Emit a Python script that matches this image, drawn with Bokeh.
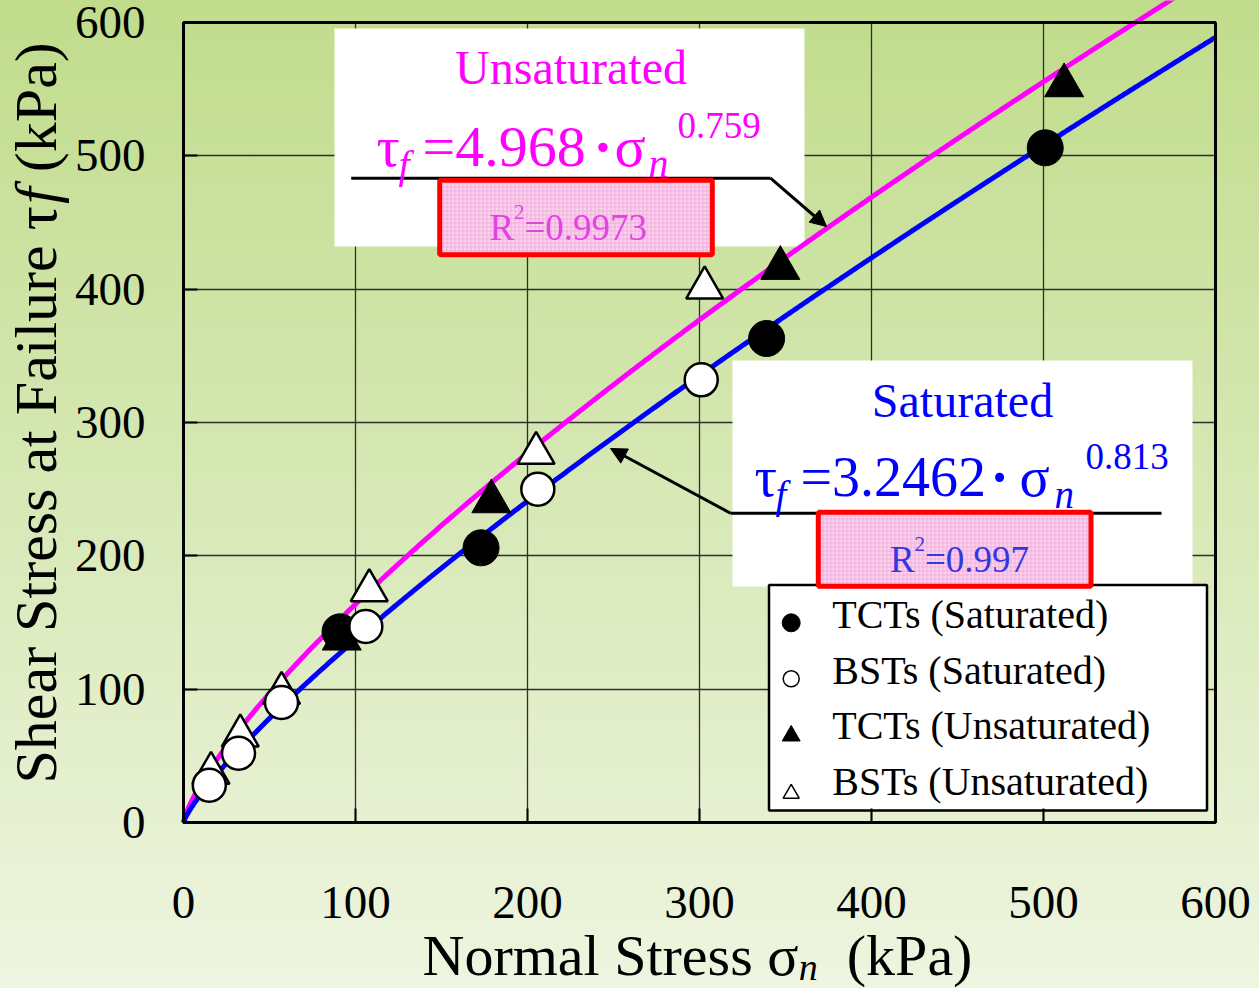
import numpy as np
from bokeh.plotting import figure
from bokeh.models import Range1d, FixedTicker, Label, BoxAnnotation, Arrow, NormalHead
from bokeh.embed import file_html
from bokeh.resources import INLINE

# ---------------- data ----------------
tct_sat_sigma = [91, 173, 339, 501]
tct_sat_tau = [143, 206, 363, 506]
bst_sat_sigma = [15, 32, 57, 106, 206, 301]
bst_sat_tau = [28, 52, 90, 147, 250, 332]
tct_unsat_sigma = [92, 179, 347, 512]
tct_unsat_tau = [142, 245, 420, 557]
bst_unsat_sigma = [16, 33, 57, 108, 205, 303]
bst_unsat_tau = [41, 69, 101, 178, 281, 405]
fit_sat = [3.2462, 0.813]      # tau_f = a * sigma_n ** b
fit_unsat = [4.968, 0.759]
r2_sat = "0.997"
r2_unsat = "0.9973"
axis_ticks = [0, 100, 200, 300, 400, 500, 600]
legend_labels = ["TCTs (Saturated)", "BSTs (Saturated)",
                 "TCTs (Unsaturated)", "BSTs (Unsaturated)"]

FONT = "Liberation Serif"
MAG = "#ff00ff"
BLUE = "#0000ff"
W_PX, H_PX = 1259, 988


# page pixel -> data coordinates (plot box: x 183..1215 = 0..600, y 822 = 0, 22 = 600)
def X(px):
    return (px - 183) / 1.72


def Y(py):
    return (822 - py) * 0.75


p = figure(width=W_PX, height=H_PX,
           x_range=Range1d(X(0), X(W_PX)), y_range=Range1d(Y(H_PX), Y(0)),
           output_backend="svg", toolbar_location=None,
           min_border_left=0, min_border_right=0, min_border_top=0, min_border_bottom=0)
p.border_fill_color = None
p.background_fill_color = None
p.outline_line_color = None
p.styles = {"background": "linear-gradient(to bottom, #c0dc8b 0%, #eef5e0 100%)"}

# axes drawn at the data origin of the 0..600 box
for ax in (p.xaxis, p.yaxis):
    ax.fixed_location = 0
    ax.bounds = (0, 600)
    ax.ticker = FixedTicker(ticks=axis_ticks)
    ax.axis_line_color = None
    ax.major_tick_in = 14
    ax.major_tick_out = 0
    ax.major_tick_line_width = 2
    ax.major_tick_line_color = "black"
    ax.minor_tick_line_color = None
    ax.major_label_text_font = FONT
    ax.major_label_text_font_size = "47px"
    ax.major_label_text_color = "black"
p.xaxis.major_label_standoff = 64
p.yaxis.major_label_standoff = 38

grid_ok = True
for g in (p.xgrid, p.ygrid):
    g.ticker = FixedTicker(ticks=axis_ticks)
    g.bounds = (0, 600)
    g.grid_line_color = "#2e2e2e"
    g.grid_line_width = 1.3
    try:
        g.cross_bounds = (0, 600)
    except Exception:
        grid_ok = False
if not grid_ok:
    for g in (p.xgrid, p.ygrid):
        g.visible = False
    p.segment(x0=axis_ticks, y0=[0] * 7, x1=axis_ticks, y1=[600] * 7,
              line_color="#2e2e2e", line_width=1.3, level="underlay")
    p.segment(x0=[0] * 7, y0=axis_ticks, x1=[600] * 7, y1=axis_ticks,
              line_color="#2e2e2e", line_width=1.3, level="underlay")

# white callout boxes and legend box
p.add_layout(BoxAnnotation(left=X(334), right=X(804), top=Y(28), bottom=Y(246),
                           fill_color="white", fill_alpha=1, line_color=None, level="underlay"))
p.add_layout(BoxAnnotation(left=X(732), right=X(1192), top=Y(360), bottom=Y(586),
                           fill_color="white", fill_alpha=1, line_color=None, level="underlay"))
p.add_layout(BoxAnnotation(left=X(768.5), right=X(1206.5), top=Y(584.5), bottom=Y(810),
                           fill_color="white", fill_alpha=1, line_color="black", line_alpha=1,
                           line_width=2.5, level="underlay"))

# fitted power-law curves
sig = np.linspace(0, 600, 601)
p.line(sig, fit_unsat[0] * sig ** fit_unsat[1], line_color=MAG, line_width=5)
p.line(sig, fit_sat[0] * sig ** fit_sat[1], line_color=BLUE, line_width=5)


# markers (triangles: shift so the bounding box, not the centroid, sits on the value)
def tri_shift(size):
    return size * 0.866 / 6 * 0.75


p.scatter(tct_sat_sigma, tct_sat_tau, marker="circle", size=36,
          fill_color="black", line_color="black", line_width=1)
p.scatter(tct_unsat_sigma, [t - tri_shift(39) for t in tct_unsat_tau], marker="triangle", size=39,
          fill_color="black", line_color="black", line_width=1)
p.scatter(bst_unsat_sigma, [t - tri_shift(37) for t in bst_unsat_tau], marker="triangle", size=37,
          fill_color="white", line_color="black", line_width=2.5)
p.scatter(bst_sat_sigma, bst_sat_tau, marker="circle", size=33,
          fill_color="white", line_color="black", line_width=2.5)

# legend markers
lx = X(790.7)
p.scatter([lx], [Y(622.3)], marker="circle", size=18, fill_color="black", line_color="black")
p.scatter([lx], [Y(678.3)], marker="circle", size=16, fill_color="white", line_color="black",
          line_width=1.5)
p.scatter([lx], [Y(732.7) - tri_shift(18)], marker="triangle", size=18, fill_color="black",
          line_color="black")
p.scatter([lx], [Y(790.7) - tri_shift(16)], marker="triangle", size=16, fill_color="white",
          line_color="black", line_width=1.5)

# plot box border
p.add_layout(BoxAnnotation(left=0, right=600, bottom=0, top=600, fill_color=None, fill_alpha=0,
                           line_color="black", line_alpha=1, line_width=3))

# leader lines with arrows
HEAD = dict(size=16, fill_color="black", line_color="black", line_width=1)
p.add_layout(Arrow(end=None, x_start=X(350.7), y_start=Y(177.7), x_end=X(770), y_end=Y(177.7),
                   line_width=3, line_color="black"))
p.add_layout(Arrow(end=NormalHead(**HEAD), x_start=X(770), y_start=Y(177.7),
                   x_end=X(826), y_end=Y(226), line_width=3, line_color="black"))
p.add_layout(Arrow(end=None, x_start=X(1161), y_start=Y(512.7), x_end=X(730), y_end=Y(512.7),
                   line_width=3, line_color="black"))
p.add_layout(Arrow(end=NormalHead(**HEAD), x_start=X(730), y_start=Y(512.7),
                   x_end=X(610), y_end=Y(448), line_width=3, line_color="black"))

# red R^2 boxes
for l, r, t, b in [(439.2, 711.8, 179.8, 254.2), (817.8, 1090.5, 511.8, 585.8)]:
    p.add_layout(BoxAnnotation(left=X(l), right=X(r), top=Y(t), bottom=Y(b),
                               fill_color="#f9d3ee", fill_alpha=1,
                               hatch_pattern="+", hatch_color="#f3a8dc", hatch_scale=4,
                               hatch_weight=1, hatch_alpha=0.9,
                               line_color="#ff0000", line_alpha=1, line_width=5))

BASE = 0.34  # distance (in em) between the label anchor and the glyph baseline


def lab(px, py, text, size, color="black", style="normal", align="left", angle=0):
    """px/py: page position of the text baseline start (or baseline centre)."""
    if angle == 0:
        ax_, ay_ = px, py - BASE * size
    else:
        ax_, ay_ = px - BASE * size, py
    p.add_layout(Label(x=X(ax_), y=Y(ay_), text=text, text_font=FONT,
                       text_font_size=f"{size}px", text_color=color, text_font_style=style,
                       text_align=align, text_baseline="alphabetic",
                       angle=angle, angle_units="deg"))


# Times-compatible advance widths (per 1000 em) for laying out composed labels
W = {' ': 250, '(': 333, ')': 333, 'S': 556, 'h': 500, 'e': 444, 'a': 444, 'r': 333, 't': 278,
     's': 389, 'F': 556, 'i': 278, 'l': 278, 'u': 500, 'k': 500, 'P': 556, 'N': 722, 'o': 500,
     'm': 778, 'τ': 439, 'σ': 544}


def tw(s, size):
    return sum(W.get(c, 500) for c in s) / 1000 * size


# titles in callouts
lab(570.5, 83, "Unsaturated", 48, MAG, align="center")
lab(962, 416, "Saturated", 48, BLUE, align="center")

# unsaturated equation
lab(376, 166, "τ", 58, MAG)
lab(398, 178, "f", 40, MAG, style="italic")
lab(422, 166, f"={fit_unsat[0]}", 58, MAG)
lab(602.5, 166, "·", 58, MAG, style="bold", align="center")
lab(614, 166, "σ", 58, MAG)
lab(648, 177, "n", 40, MAG, style="italic")
lab(677, 138, f"{fit_unsat[1]}", 37, MAG)

# saturated equation
lab(754, 496, "τ", 56, BLUE)
lab(775, 507, "f", 39, BLUE, style="italic")
lab(800, 496, f"={fit_sat[0]}", 56, BLUE)
lab(999, 496, "·", 56, BLUE, style="bold", align="center")
lab(1019, 496, "σ", 56, BLUE)
lab(1054, 507, "n", 39, BLUE, style="italic")
lab(1085, 469, f"{fit_sat[1]}", 37, BLUE)

# R^2 texts
R2M = "#e244e2"
R2B = "#3636e0"
lab(489, 240, "R", 37, R2M)
lab(513.5, 219, "2", 21, R2M)
lab(524, 240, f"={r2_unsat}", 37, R2M)
lab(889.5, 571.7, "R", 37, R2B)
lab(914, 551, "2", 21, R2B)
lab(924.5, 571.7, f"={r2_sat}", 37, R2B)

# legend labels
for txt, by in zip(legend_labels, [627.3, 683.3, 738.3, 795]):
    lab(831.7, by, txt, 40)

# x-axis title: Normal Stress σn (kPa)
xs = 58
x0 = 422
p1 = "Normal Stress σ"
lab(x0, 975, p1, xs)
x1 = x0 + tw(p1, xs)
lab(x1, 979, "n", 38, style="italic")
x2 = x1 + 19 + tw("  ", xs)
lab(x2, 975, "(kPa)", xs)

# y-axis title: Shear Stress at Failure τf (kPa) (reads bottom to top)
ys = 60
yb = 56
y0 = 783
q1 = "Shear Stress at Failure τ"
lab(yb, y0, q1, ys, angle=90)
y1 = y0 - tw(q1, ys)
lab(yb, y1, "f", ys, style="italic", angle=90)
y2 = y1 - 278 / 1000 * ys - tw(" ", ys)
lab(yb, y2, "(kPa)", ys, angle=90)

open("out.html", "w").write(file_html(p, INLINE, title="Shear stress at failure"))
